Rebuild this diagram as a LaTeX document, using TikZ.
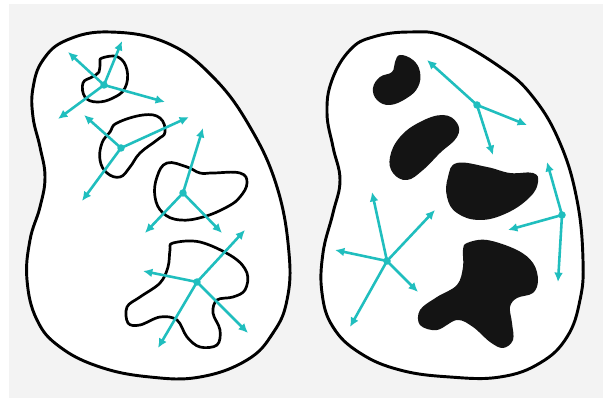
\documentclass[tikz,border=0pt]{standalone}
\usetikzlibrary{arrows.meta}
\definecolor{tealarr}{RGB}{32,190,190}
\definecolor{bggray}{RGB}{243,243,243}

\begin{document}
\begin{tikzpicture}[x=0.03cm, y=-0.03cm, line join=round,
    body/.style={draw=black, fill=white, line width=2.5pt},
    hole/.style={draw=black, line width=2.3pt},
    grain/.style={fill=black!92},
    arr/.style={tealarr, line width=2.2pt, -{Latex[length=8pt,width=7.5pt]}},
    dot/.style={fill=tealarr}]
  \useasboundingbox (0,0) rectangle (603,398);
  \fill[white] (0,0) rectangle (603,398);
  \fill[bggray] (9,4) rectangle (603,398);

  % left body with outlined holes
  \draw[body] plot[smooth cycle, tension=0.7] coordinates {
    (110,32) (167,43) (213,77) (250,127) (277,187) (289,253) (287,300)
    (273,333) (247,360) (200,377) (150,377) (100,367) (60,347) (37,320)
    (27,280) (30,240) (40,207) (45,177) (40,147) (33,117) (33,88) (43,60) (67,40)};

  \draw[hole] plot[smooth cycle, tension=0.7] coordinates {
    (102,58) (118,57) (127,70) (125,88) (113,98) (97,102) (85,97) (83,83)
    (92,77) (99,72) (100,63)};
  \draw[hole] plot[smooth cycle, tension=0.7] coordinates {
    (117,123) (143,115) (160,118) (165,132) (157,140) (140,153) (130,167)
    (120,177) (107,173) (100,160) (102,143) (110,132)};
  \draw[hole] plot[smooth cycle, tension=0.7] coordinates {
    (167,163) (187,167) (200,173) (213,173) (240,173) (247,183) (240,197)
    (227,207) (203,217) (180,220) (163,213) (155,197) (157,177)};
  \draw[hole] plot[smooth cycle, tension=0.6] coordinates {
    (173,243) (200,242) (233,257) (247,273) (245,290) (233,297) (217,300)
    (213,313) (220,330) (217,345) (200,347) (187,337) (177,320) (160,317)
    (140,325) (128,323) (127,307) (140,297) (160,283) (168,267) (170,250)};

  % right body with filled grains
  \draw[body] plot[smooth cycle, tension=0.7] coordinates {
    (410,32) (447,37) (500,67) (533,97) (560,143) (577,200) (583,260)
    (580,300) (567,337) (540,363) (500,377) (450,377) (400,370) (360,353)
    (333,327) (322,293) (323,253) (333,213) (340,180) (333,147) (327,113)
    (332,80) (350,50) (373,37)};

  \fill[grain] plot[smooth cycle, tension=0.7] coordinates {
    (400,55) (413,60) (420,72) (418,87) (407,98) (390,105) (377,100)
    (373,88) (380,77) (392,72) (395,62)};
  \fill[grain] plot[smooth cycle, tension=0.7] coordinates {
    (443,115) (457,123) (457,137) (440,153) (423,170) (407,180) (393,173)
    (390,157) (400,137) (420,122)};
  \fill[grain] plot[smooth cycle, tension=0.7] coordinates {
    (457,163) (487,167) (510,173) (533,173) (538,182) (530,197) (507,213)
    (480,220) (457,213) (447,197) (448,177)};
  \fill[grain] plot[smooth cycle, tension=0.6] coordinates {
    (467,243) (487,240) (517,250) (533,263) (538,280) (533,293) (517,298)
    (510,307) (512,323) (513,340) (503,348) (490,342) (473,327) (457,320)
    (437,330) (420,325) (420,310) (437,297) (457,285) (463,267) (463,250)};

  % arrow centres and tips
  \coordinate (pa) at (104,85);
  \coordinate (pa1) at (68,52);   \coordinate (pa2) at (122,41);
  \coordinate (pa3) at (165,102); \coordinate (pa4) at (58,119);
  \coordinate (pb) at (121,148);
  \coordinate (pb1) at (84,115);  \coordinate (pb2) at (189,117);
  \coordinate (pb3) at (82,201);
  \coordinate (pc) at (183,193);
  \coordinate (pc1) at (203,128); \coordinate (pc2) at (145,233);
  \coordinate (pc3) at (222,233);
  \coordinate (pd) at (197,282);
  \coordinate (pd1) at (143,271); \coordinate (pd2) at (245,230);
  \coordinate (pd3) at (158,348); \coordinate (pd4) at (248,333);

  \coordinate (qa) at (477,105);
  \coordinate (qa1) at (427,60);  \coordinate (qa2) at (527,125);
  \coordinate (qa3) at (493,155);
  \coordinate (qb) at (562,215);
  \coordinate (qb1) at (547,162); \coordinate (qb2) at (508,230);
  \coordinate (qb3) at (558,282);
  \coordinate (qc) at (387,261);
  \coordinate (qc1) at (372,192); \coordinate (qc2) at (435,210);
  \coordinate (qc3) at (335,250); \coordinate (qc4) at (418,292);
  \coordinate (qc5) at (350,327);

  \foreach \t in {pa1,pa2,pa3,pa4} \draw[arr] (pa) -- (\t);
  \foreach \t in {pb1,pb2,pb3} \draw[arr] (pb) -- (\t);
  \foreach \t in {pc1,pc2,pc3} \draw[arr] (pc) -- (\t);
  \foreach \t in {pd1,pd2,pd3,pd4} \draw[arr] (pd) -- (\t);
  \foreach \t in {qa1,qa2,qa3} \draw[arr] (qa) -- (\t);
  \foreach \t in {qb1,qb2,qb3} \draw[arr] (qb) -- (\t);
  \foreach \t in {qc1,qc2,qc3,qc4,qc5} \draw[arr] (qc) -- (\t);

  \foreach \c in {pa,pb,pc,pd,qa,qb,qc} \fill[dot] (\c) circle (3.2pt);
\end{tikzpicture}
\end{document}
